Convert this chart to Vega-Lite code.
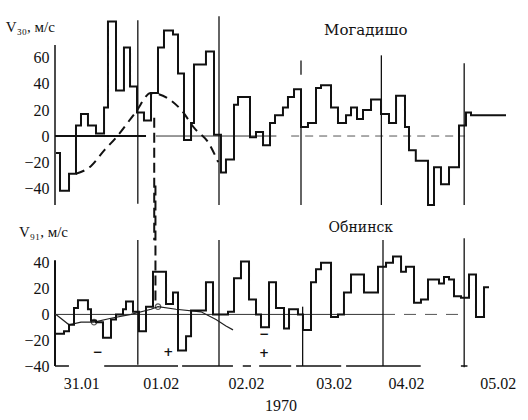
{
  "$schema": "https://vega.github.io/schema/vega-lite/v6.json",
  "background": "white",
  "padding": {"left": 5, "top": 15, "right": 5, "bottom": 2},
  "spacing": 35,
  "bounds": "flush",
  "config": {
    "view": {"stroke": null},
    "font": "Liberation Serif",
    "axis": {"grid": false, "labelColor": "#111", "labelFont": "Liberation Serif", "titleFont": "Liberation Serif", "titleColor": "#111", "titleFontWeight": "normal"}
  },
  "datasets": {
    "topStep": [
      {"t": 0.012, "v": -13}, {"t": 0.061, "v": -42}, {"t": 0.171, "v": -29}, {"t": 0.256, "v": 8},
      {"t": 0.317, "v": 17}, {"t": 0.402, "v": 8}, {"t": 0.5, "v": 2}, {"t": 0.598, "v": 22},
      {"t": 0.646, "v": 88}, {"t": 0.744, "v": 35}, {"t": 0.841, "v": 68}, {"t": 0.915, "v": 38},
      {"t": 1.0, "v": 18}, {"t": 1.085, "v": 12}, {"t": 1.171, "v": 33}, {"t": 1.256, "v": 68},
      {"t": 1.329, "v": 81}, {"t": 1.439, "v": 78}, {"t": 1.5, "v": 48}, {"t": 1.573, "v": -3},
      {"t": 1.659, "v": 10}, {"t": 1.695, "v": 55}, {"t": 1.841, "v": 65}, {"t": 1.939, "v": 1},
      {"t": 2.024, "v": -28}, {"t": 2.085, "v": -18}, {"t": 2.183, "v": 24}, {"t": 2.232, "v": 30},
      {"t": 2.378, "v": -1}, {"t": 2.451, "v": 3}, {"t": 2.537, "v": -7}, {"t": 2.622, "v": 10},
      {"t": 2.683, "v": 16}, {"t": 2.78, "v": 22}, {"t": 2.841, "v": 30}, {"t": 2.915, "v": 36},
      {"t": 3.0, "v": 7}, {"t": 3.085, "v": 10}, {"t": 3.183, "v": 37}, {"t": 3.244, "v": 39},
      {"t": 3.366, "v": 22}, {"t": 3.451, "v": 10}, {"t": 3.549, "v": 16}, {"t": 3.61, "v": 22},
      {"t": 3.683, "v": 13}, {"t": 3.756, "v": 20}, {"t": 3.854, "v": 28}, {"t": 3.976, "v": 17},
      {"t": 4.073, "v": 10}, {"t": 4.159, "v": 31}, {"t": 4.268, "v": 7}, {"t": 4.317, "v": -11},
      {"t": 4.4, "v": -19}, {"t": 4.549, "v": -53}, {"t": 4.622, "v": -24}, {"t": 4.707, "v": -37},
      {"t": 4.805, "v": -24}, {"t": 4.927, "v": 8}, {"t": 5.012, "v": 18}, {"t": 5.073, "v": 16},
      {"t": 5.5, "v": 16}
    ],
    "botStep": [
      {"t": 0.012, "v": -15}, {"t": 0.11, "v": -13}, {"t": 0.171, "v": -8}, {"t": 0.232, "v": 5},
      {"t": 0.28, "v": 11}, {"t": 0.402, "v": 4}, {"t": 0.439, "v": -5}, {"t": 0.5, "v": -6},
      {"t": 0.585, "v": -18}, {"t": 0.683, "v": -4}, {"t": 0.744, "v": 0}, {"t": 0.829, "v": 4},
      {"t": 0.866, "v": 10}, {"t": 0.951, "v": 2}, {"t": 1.024, "v": -13}, {"t": 1.11, "v": 6},
      {"t": 1.195, "v": 33}, {"t": 1.354, "v": 8}, {"t": 1.439, "v": 17}, {"t": 1.5, "v": -28},
      {"t": 1.598, "v": -17}, {"t": 1.659, "v": 3}, {"t": 1.841, "v": 25}, {"t": 1.927, "v": 0},
      {"t": 2.11, "v": 2}, {"t": 2.183, "v": 28}, {"t": 2.268, "v": 41}, {"t": 2.366, "v": 11.5},
      {"t": 2.451, "v": 0}, {"t": 2.512, "v": -10}, {"t": 2.61, "v": 25}, {"t": 2.695, "v": 5},
      {"t": 2.793, "v": -11}, {"t": 2.854, "v": 4}, {"t": 2.963, "v": 0}, {"t": 3.024, "v": -12},
      {"t": 3.122, "v": 25}, {"t": 3.183, "v": 35}, {"t": 3.244, "v": 40}, {"t": 3.366, "v": -2},
      {"t": 3.451, "v": 0}, {"t": 3.524, "v": 17}, {"t": 3.61, "v": 31}, {"t": 3.768, "v": 17},
      {"t": 3.939, "v": 37}, {"t": 4.037, "v": 40}, {"t": 4.122, "v": 45}, {"t": 4.22, "v": 33},
      {"t": 4.28, "v": 37}, {"t": 4.378, "v": 9}, {"t": 4.463, "v": 11.5}, {"t": 4.549, "v": 27},
      {"t": 4.683, "v": 24}, {"t": 4.744, "v": 29}, {"t": 4.805, "v": 27}, {"t": 4.866, "v": 14},
      {"t": 4.951, "v": 13}, {"t": 5.049, "v": 31}, {"t": 5.134, "v": -2}, {"t": 5.232, "v": 21},
      {"t": 5.293, "v": 21}
    ]
  },
  "vconcat": [
    {
      "width": 451,
      "height": 190,
      "encoding": {
        "x": {"field": "t", "type": "quantitative", "scale": {"domain": [0, 5.5], "nice": false, "zero": false}, "axis": null},
        "y": {"field": "v", "type": "quantitative", "title": null, "scale": {"domain": [-53, 93], "nice": false, "zero": false},
              "axis": {"values": [-40, -20, 0, 20, 40, 60], "domain": false, "ticks": false, "labelPadding": 6, "labelFontSize": 16}}
      },
      "layer": [
        {"data": {"values": [{"t": 0, "v": -53, "v2": 70}]}, "mark": {"type": "rule", "color": "#111", "strokeWidth": 1.5, "clip": false}, "encoding": {"y2": {"field": "v2"}}},
        {"data": {"values": [{"t": 0, "t2": 1.11, "v": 0}]}, "mark": {"type": "rule", "color": "#111", "strokeWidth": 2}, "encoding": {"x2": {"field": "t2"}}},
        {"data": {"values": [{"t": 1.23, "t2": 2.7, "v": 0}]}, "mark": {"type": "rule", "color": "#333", "strokeWidth": 1}, "encoding": {"x2": {"field": "t2"}}},
        {"data": {"values": [{"t": 2.88, "t2": 5.0, "v": 0}]}, "mark": {"type": "rule", "color": "#555", "strokeWidth": 1, "strokeDash": [8, 6]}, "encoding": {"x2": {"field": "t2"}}},
        {"data": {"values": [
          {"t": 1.01, "v": 89, "v2": -52}, {"t": 2.0, "v": 92, "v2": -53}, {"t": 3.0, "v": 58, "v2": 47},
          {"t": 3.0, "v": 12, "v2": -53}, {"t": 3.98, "v": 62, "v2": -53}, {"t": 4.99, "v": 56, "v2": -53}]},
         "mark": {"type": "rule", "color": "#111", "strokeWidth": 1.3, "clip": false}, "encoding": {"y2": {"field": "v2"}}},
        {"data": {"values": [
          {"t": 0.256, "v": -29}, {"t": 0.44, "v": -23}, {"t": 0.6, "v": -11}, {"t": 0.74, "v": -1.5},
          {"t": 0.98, "v": 18}, {"t": 1.17, "v": 33}, {"t": 1.54, "v": 20}, {"t": 1.7, "v": 6},
          {"t": 1.87, "v": -5}, {"t": 1.99, "v": -20}]},
         "mark": {"type": "line", "color": "#111", "strokeWidth": 2, "strokeDash": [9, 6], "interpolate": "monotone"}},
        {"data": {"values": [{"t": 1.21, "v": 14, "v2": -80}]}, "mark": {"type": "rule", "color": "#111", "strokeWidth": 2, "strokeDash": [10, 5], "clip": false}, "encoding": {"y2": {"field": "v2"}}},
        {"data": {"name": "topStep"}, "mark": {"type": "line", "color": "#111", "strokeWidth": 2, "interpolate": "step-after"}},
        {"data": {"values": [{"t": 3.79, "v": 81.5, "label": "Могадишо"}]}, "mark": {"type": "text", "font": "DejaVu Serif", "fontSize": 15, "color": "#111", "align": "center", "baseline": "middle"}, "encoding": {"text": {"field": "label"}}},
        {"data": {"values": [{"t": -0.6, "v": 84, "label": "V₃₀, м/с"}]}, "mark": {"type": "text", "font": "Liberation Serif", "fontSize": 15, "color": "#111", "align": "left", "baseline": "middle", "clip": false}, "encoding": {"text": {"field": "label"}}}
      ]
    },
    {
      "width": 451,
      "height": 126,
      "encoding": {
        "x": {"field": "t", "type": "quantitative", "scale": {"domain": [0, 5.5], "nice": false, "zero": false},
              "axis": {"values": [0.32, 1.29, 2.33, 3.4, 4.28, 5.4], "labelExpr": "datum.value < 0.8 ? '31.01' : datum.value < 1.8 ? '01.02' : datum.value < 2.8 ? '02.02' : datum.value < 3.8 ? '03.02' : datum.value < 4.8 ? '04.02' : '05.02'",
                       "domain": false, "ticks": false, "labelPadding": 9, "labelFlush": false, "labelFontSize": 16, "title": "1970", "titleFontSize": 16, "titlePadding": 6}},
        "y": {"field": "v", "type": "quantitative", "title": null, "scale": {"domain": [-40, 57.7], "nice": false, "zero": false},
              "axis": {"values": [-40, -20, 0, 20, 40], "domain": false, "ticks": false, "labelPadding": 6, "labelFontSize": 16}}
      },
      "layer": [
        {"data": {"values": [{"t": 0, "v": -40, "v2": 42}]}, "mark": {"type": "rule", "color": "#111", "strokeWidth": 2}, "encoding": {"y2": {"field": "v2"}}},
        {"data": {"values": [
          {"t": 0, "t2": 0.17, "v": -40}, {"t": 0.6, "t2": 1.5, "v": -40}, {"t": 1.55, "t2": 2.17, "v": -40},
          {"t": 2.29, "t2": 2.39, "v": -40}, {"t": 2.49, "t2": 2.88, "v": -40}, {"t": 2.94, "t2": 3.49, "v": -40},
          {"t": 3.55, "t2": 4.46, "v": -40}, {"t": 4.95, "t2": 5.03, "v": -40}]},
         "mark": {"type": "rule", "color": "#111", "strokeWidth": 1.5}, "encoding": {"x2": {"field": "t2"}}},
        {"data": {"values": [{"t": 0, "t2": 4.0, "v": 0}]}, "mark": {"type": "rule", "color": "#333", "strokeWidth": 1}, "encoding": {"x2": {"field": "t2"}}},
        {"data": {"values": [{"t": 4.0, "t2": 5.0, "v": 0}]}, "mark": {"type": "rule", "color": "#555", "strokeWidth": 1, "strokeDash": [12, 9]}, "encoding": {"x2": {"field": "t2"}}},
        {"data": {"values": [
          {"t": 1.01, "v": 57.7, "v2": -39}, {"t": 2.0, "v": 57.7, "v2": -40}, {"t": 3.02, "v": 6, "v2": -40},
          {"t": 4.0, "v": 57.7, "v2": -40}, {"t": 4.99, "v": 59, "v2": -41}]},
         "mark": {"type": "rule", "color": "#111", "strokeWidth": 1.3, "clip": false}, "encoding": {"y2": {"field": "v2"}}},
        {"data": {"values": [
          {"t": 0.012, "v": 0}, {"t": 0.171, "v": -8}, {"t": 0.317, "v": -6}, {"t": 0.476, "v": -6},
          {"t": 0.683, "v": -3}, {"t": 0.927, "v": 0}, {"t": 1.171, "v": 4}, {"t": 1.256, "v": 6},
          {"t": 1.476, "v": 4}, {"t": 1.78, "v": 2}, {"t": 1.963, "v": -4}, {"t": 2.085, "v": -9},
          {"t": 2.171, "v": -12}]},
         "mark": {"type": "line", "color": "#222", "strokeWidth": 1.2}},
        {"data": {"values": [{"t": 0.476, "v": -6}, {"t": 1.256, "v": 6}]}, "mark": {"type": "point", "color": "#111", "filled": false, "size": 30, "strokeWidth": 1.2}},
        {"data": {"values": [{"t": 1.225, "v": 100, "v2": 10}]}, "mark": {"type": "rule", "color": "#111", "strokeWidth": 2, "strokeDash": [10, 5], "clip": false}, "encoding": {"y2": {"field": "v2"}}},
        {"data": {"name": "botStep"}, "mark": {"type": "line", "color": "#111", "strokeWidth": 2, "interpolate": "step-after"}},
        {"data": {"values": [
          {"t": 0.52, "v": -29, "label": "−"}, {"t": 1.38, "v": -29, "label": "+"},
          {"t": 2.55, "v": -15, "label": "−"}, {"t": 2.55, "v": -30, "label": "+"}]},
         "mark": {"type": "text", "font": "DejaVu Sans", "fontSize": 12, "fontWeight": "bold", "color": "#111", "align": "center", "baseline": "middle"}, "encoding": {"text": {"field": "label"}}},
        {"data": {"values": [{"t": 3.73, "v": 67, "label": "Обнинск"}]}, "mark": {"type": "text", "font": "DejaVu Serif", "fontSize": 14, "color": "#111", "align": "center", "baseline": "middle", "clip": false}, "encoding": {"text": {"field": "label"}}},
        {"data": {"values": [{"t": -0.44, "v": 64, "label": "V₉₁, м/с"}]}, "mark": {"type": "text", "font": "Liberation Serif", "fontSize": 15, "color": "#111", "align": "left", "baseline": "middle", "clip": false}, "encoding": {"text": {"field": "label"}}}
      ]
    }
  ]
}
